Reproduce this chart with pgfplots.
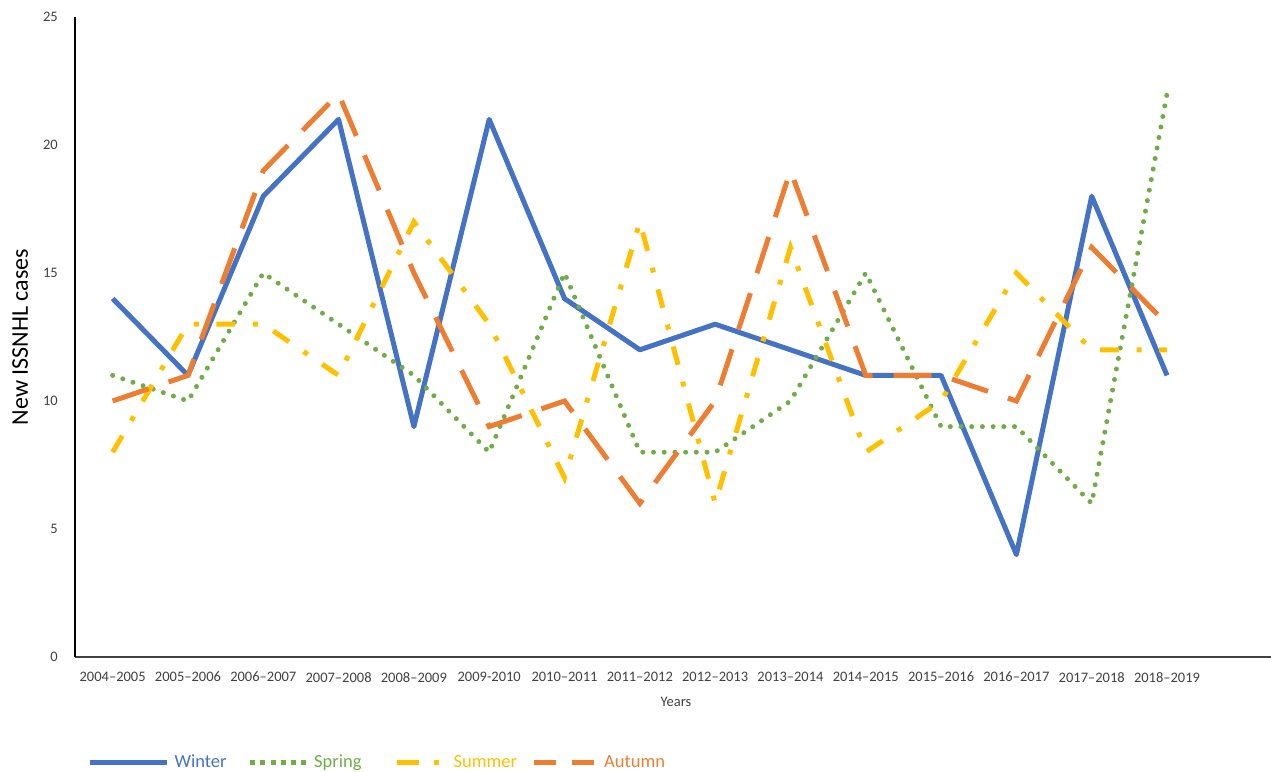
\documentclass[border=0pt]{standalone}
\usepackage{fontspec}
\setmainfont{Carlito}
\usepackage{pgfplots}
\pgfplotsset{compat=1.18}
\definecolor{cWinter}{HTML}{4472C4}
\definecolor{cSpring}{HTML}{70AD47}
\definecolor{cSummer}{HTML}{FFC000}
\definecolor{cAutumn}{HTML}{ED7D31}
\definecolor{tickgray}{HTML}{404040}
\pgfplotsset{
  limgW/.style={legend image code/.code={\draw[cWinter, line width=5pt] (0pt,0pt) -- (77pt,0pt);}},
  limgSp/.style={legend image code/.code={\draw[cSpring, line width=5pt, dash pattern=on 5pt off 5.2pt] (0pt,0pt) -- (56pt,0pt);}},
  limgSu/.style={legend image code/.code={\draw[cSummer, line width=5pt, dash pattern=on 22pt off 15.5pt on 5pt off 15pt] (0pt,0pt) -- (43pt,0pt);}},
  limgA/.style={legend image code/.code={\draw[cAutumn, line width=5pt, dash pattern=on 22pt off 16pt] (0pt,0pt) -- (60pt,0pt);}},
}
\begin{document}
\begin{tikzpicture}
\path[use as bounding box] (-75pt,-114pt) rectangle (1196pt,657pt);
\begin{axis}[
  at={(0pt,0pt)}, anchor=south west,
  scale only axis, width=1205pt, height=640pt,
  xmin=-0.5, xmax=15.5, ymin=0, ymax=25,
  axis x line*=bottom, axis y line*=left,
  x axis line style={draw=tickgray, line width=2.4pt},
  y axis line style={draw=black, line width=1.5pt},
  xtick={0,...,14},
  xticklabels={2004--2005,2005--2006,2006--2007,2007--2008,2008--2009,2009-2010,2010--2011,2011--2012,2012--2013,2013--2014,2014--2015,2015--2016,2016--2017,2017--2018,2018--2019},
  ytick={0,5,10,15,20,25},
  major tick length=0pt,
  /pgf/number format/assume math mode=true,
  tick label style={font=\fontsize{14.5}{16}\selectfont, text=tickgray, inner sep=0pt},
  xticklabel style={anchor=north, yshift=-15pt},
  yticklabel style={anchor=east, xshift=-17pt},
  xlabel={Years}, ylabel={New ISSNHL cases},
  every axis y label/.style={at={(axis description cs:-0.0456,0.5)}, rotate=90, anchor=center, font=\fontsize{24}{26}\selectfont, text=black},
  every axis x label/.style={at={(axis description cs:0.4988,-0.0703)}, anchor=center, font=\fontsize{14.5}{16}\selectfont, text=tickgray},
  legend columns=4,
  legend style={at={(axis description cs:0.00996,-0.1641)}, anchor=west, draw=none, fill=none, inner sep=0pt,
    font=\fontsize{18.5}{20}\selectfont,
    cells={anchor=west},
    nodes={inner sep=0pt, text height=11.9pt, text depth=0pt},
    /tikz/every odd column/.append style={column sep=5.5pt},
    /tikz/every even column/.append style={column sep=0pt}},
]
\addplot[forget plot, cWinter, line width=5pt, line join=round] coordinates {
(0,14)(1,11)(2,18)(3,21)(4,9)(5,21)(6,14)(7,12)(8,13)(9,12)(10,11)(11,11)(12,4)(13,18)(14,11)};
\addplot[forget plot, cSpring, line width=5pt, line cap=round, dash pattern=on 0pt off 10.7pt] coordinates {
(0,11)(1,10)(2,15)(3,13)(4,11)(5,8)(6,15)(7,8)(8,8)(9,10)(10,15)(11,9)(12,9)(13,6)(14,22)};
\addplot[forget plot, cSummer, line width=5pt, dash pattern=on 19pt off 17.5pt on 5pt off 17.5pt] coordinates {
(0,8)(1,13)(2,13)(3,11)(4,17)(5,13)(6,7)(7,17)(8,6)(9,16)(10,8)(11,10)(12,15)(13,12)(14,12)};
\addplot[forget plot, cAutumn, line width=5pt, dash pattern=on 38pt off 21pt] coordinates {
(0,10)(1,11)(2,19)(3,22)(4,15)(5,9)(6,10)(7,6)(8,10)(9,19)(10,11)(11,11)(12,10)(13,16)(14,13)};
\addlegendimage{limgW}
\addlegendentry{\makebox[73pt][l]{\textcolor{cWinter}{Winter}}}
\addlegendimage{limgSp}
\addlegendentry{\makebox[80pt][l]{\textcolor{cSpring}{Spring}}}
\addlegendimage{limgSu}
\addlegendentry{\makebox[84pt][l]{\hspace{6pt}\textcolor{cSummer}{Summer}}}
\addlegendimage{limgA}
\addlegendentry{\hspace{2pt}\textcolor{cAutumn}{Autumn}}
\end{axis}
\end{tikzpicture}
\end{document}
